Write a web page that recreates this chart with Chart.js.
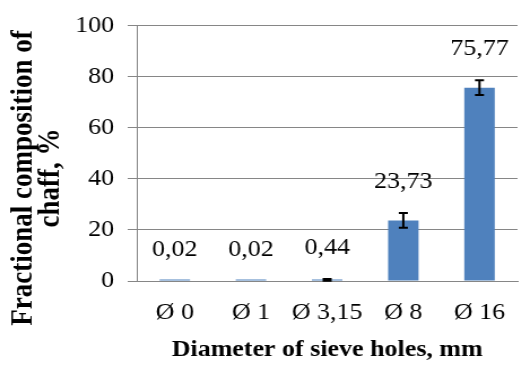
<!DOCTYPE html>
<html>
<head>
<meta charset="utf-8">
<script src="https://cdn.jsdelivr.net/npm/chart.js@4.4.1/dist/chart.umd.min.js"></script>
<style>
  html, body { margin: 0; padding: 0; background: #fff; overflow: hidden; width: 521px; height: 365px; }
  #wrap { width: 465px; height: 365px; transform: scaleX(1.13); transform-origin: 0 0; }
  canvas { display: block; }
</style>
</head>
<body>
<div id="wrap"><canvas id="c" width="465" height="365"></canvas></div>
<script>
const categories = ['Ø 0', 'Ø 1', 'Ø 3,15', 'Ø 8', 'Ø 16'];
const values = [0.02, 0.02, 0.44, 23.73, 75.77];
const errors = [0, 0, 0.3, 2.9, 2.9];
const valueLabels = ['0,02', '0,02', '0,44', '23,73', '75,77'];
const yTicks = [0, 20, 40, 60, 80, 100];
const xTitle = 'Diameter of sieve holes, mm';
const yTitleLines = ['Fractional composition of', 'chaff, %'];

const FONT = "'Liberation Serif', 'Times New Roman', serif";

const errorBarsAndLabels = {
  id: 'errorBarsAndLabels',
  afterDatasetsDraw(chart) {
    const ctx = chart.ctx;
    const meta = chart.getDatasetMeta(0);
    const y = chart.scales.y;
    ctx.save();
    meta.data.forEach((bar, i) => {
      const e = errors[i];
      const x = bar.x;
      const top = y.getPixelForValue(values[i] + e);
      const bot = y.getPixelForValue(values[i] - e);
      if (e > 0) {
        ctx.strokeStyle = '#000';
        ctx.lineWidth = 2;
        ctx.beginPath();
        ctx.moveTo(x, top); ctx.lineTo(x, bot);
        ctx.moveTo(x - 4, top); ctx.lineTo(x + 4, top);
        ctx.moveTo(x - 4, bot); ctx.lineTo(x + 4, bot);
        ctx.stroke();
      }
      ctx.fillStyle = '#000';
      ctx.font = '23px ' + FONT;
      ctx.textAlign = 'center';
      ctx.textBaseline = 'middle';
      ctx.fillText(valueLabels[i], x, top - 31);
    });
    ctx.restore();
  },
  afterDraw(chart) {
    const ctx = chart.ctx;
    ctx.save();
    ctx.fillStyle = '#000';
    ctx.font = 'bold 27px ' + FONT;
    ctx.textAlign = 'center';
    ctx.textBaseline = 'alphabetic';
    ctx.translate(27.5, 178);
    ctx.rotate(-Math.PI / 2);
    ctx.fillText(yTitleLines[0], 0, 0);
    ctx.fillText(yTitleLines[1], 0, 24.5);
    ctx.restore();
  }
};

new Chart(document.getElementById('c'), {
  type: 'bar',
  data: {
    labels: categories,
    datasets: [{
      data: values,
      backgroundColor: '#4F81BD',
      borderWidth: 0,
      minBarLength: 1.5,
      barPercentage: 0.4,
      categoryPercentage: 1.0
    }]
  },
  options: {
    responsive: false,
    animation: false,
    devicePixelRatio: 1,
    layout: { padding: { top: 23, left: 0, right: 0, bottom: 0 } },
    plugins: { legend: { display: false }, tooltip: { enabled: false } },
    scales: {
      x: {
        grid: { display: false, drawTicks: false },
        border: { display: true, color: '#868686', width: 1 },
        ticks: { color: '#000', font: { family: FONT, size: 23 }, padding: 18 },
        title: { display: true, text: xTitle, color: '#000', font: { family: FONT, size: 23, weight: 'bold' }, padding: { top: 0, bottom: 1 } },
        afterFit(s) { s.height = 84; }
      },
      y: {
        min: 0, max: 100,
        afterBuildTicks(s) { s.ticks = yTicks.map(v => ({ value: v })); },
        grid: { color: '#868686', lineWidth: 1, tickLength: 8, drawTicks: true },
        border: { display: true, color: '#868686', width: 1 },
        ticks: { color: '#000', font: { family: FONT, size: 23 }, padding: 12 },
        afterFit(s) { s.width = 121; }
      }
    }
  },
  plugins: [errorBarsAndLabels]
});
</script>
</body>
</html>
